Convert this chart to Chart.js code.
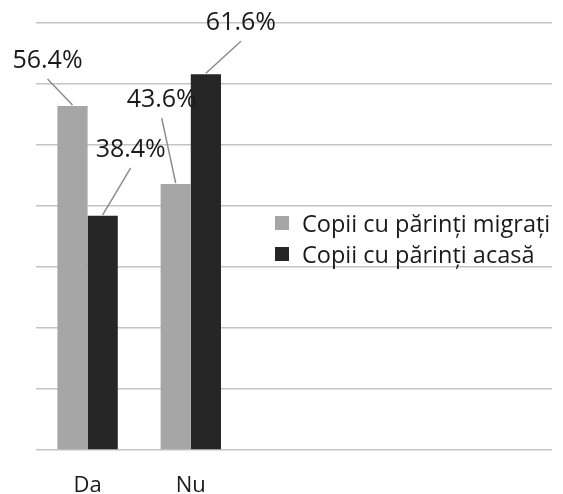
<!DOCTYPE html>
<html>
<head>
<meta charset="utf-8">
<script src="https://cdn.jsdelivr.net/npm/chart.js@4"></script>
<style>
  html, body { margin: 0; padding: 0; background: #fff; }
  #wrap { position: relative; width: 563px; height: 494px; }
  #legend { position: absolute; left: 275px; top: 207px; font-family: "Open Sans", sans-serif; font-size: 23.5px; color: #1a1a1a; }
  #legend div { display: flex; align-items: center; height: 31px; white-space: nowrap; }
  #legend span.box { display: inline-block; width: 14px; height: 14px; margin-right: 13px; }
</style>
</head>
<body>
<div id="wrap">
  <canvas id="c" width="563" height="494"></canvas>
  <div id="legend"></div>
</div>
<script>
const categories = ['Da', 'Nu'];
const seriesNames = ['Copii cu părinți migrați', 'Copii cu părinți acasă'];
const migrati = [56.4, 43.6];
const acasa = [38.4, 61.6];
const colors = ['#a6a6a6', '#262626'];
const yMax = 70;
const yStep = 10;

// label offsets relative to bar top (style only)
const labelOffsets = [
  [[-25, -45], [-14, -84]],
  [[28, -66], [35, -51]]
];

const emptySlots = ['', '', ''];
const labels = categories.concat(emptySlots);
const pad = arr => arr.concat(emptySlots.map(() => null));

const leaderLabels = {
  id: 'leaderLabels',
  afterDatasetsDraw(chart) {
    const ctx = chart.ctx;
    ctx.save();
    ctx.font = '25px "Open Sans", sans-serif';
    ctx.textAlign = 'center';
    ctx.textBaseline = 'middle';
    chart.data.datasets.forEach((ds, di) => {
      const meta = chart.getDatasetMeta(di);
      meta.data.forEach((bar, i) => {
        const v = ds.data[i];
        if (v == null) return;
        const off = labelOffsets[di][i];
        const lx = bar.x + off[0];
        const ly = bar.y + off[1];
        ctx.strokeStyle = '#8c8c8c';
        ctx.lineWidth = 1.5;
        ctx.beginPath();
        ctx.moveTo(lx, ly + 18);
        ctx.lineTo(bar.x, bar.y - 1);
        ctx.stroke();
        ctx.fillStyle = '#1a1a1a';
        ctx.fillText(v.toFixed(1) + '%', lx, ly);
      });
    });
    ctx.restore();
  }
};

const chart = new Chart(document.getElementById('c'), {
  type: 'bar',
  data: {
    labels: labels,
    datasets: [
      { label: seriesNames[0], data: pad(migrati), backgroundColor: colors[0] },
      { label: seriesNames[1], data: pad(acasa), backgroundColor: colors[1] }
    ]
  },
  options: {
    responsive: false,
    animation: false,
    devicePixelRatio: 1,
    layout: { padding: { left: 36, right: 11, top: 23, bottom: 0 } },
    plugins: { legend: { display: false }, tooltip: { enabled: false } },
    datasets: { bar: { barPercentage: 1, categoryPercentage: 0.585 } },
    scales: {
      x: {
        grid: { display: false, drawTicks: false },
        border: { display: false },
        ticks: { font: { family: 'Open Sans', size: 22 }, color: '#1a1a1a', padding: 23, maxRotation: 0 },
        afterFit(scale) { scale.height = 44; }
      },
      y: {
        min: 0, max: yMax,
        ticks: { display: false, stepSize: yStep },
        border: { display: false },
        grid: { color: '#c4c4c4', lineWidth: 1.5, drawTicks: false }
      }
    }
  },
  plugins: [leaderLabels]
});

const leg = document.getElementById('legend');
seriesNames.forEach((n, i) => {
  const d = document.createElement('div');
  const b = document.createElement('span');
  b.className = 'box';
  b.style.background = colors[i];
  d.appendChild(b);
  d.appendChild(document.createTextNode(n));
  leg.appendChild(d);
});
</script>
</body>
</html>
